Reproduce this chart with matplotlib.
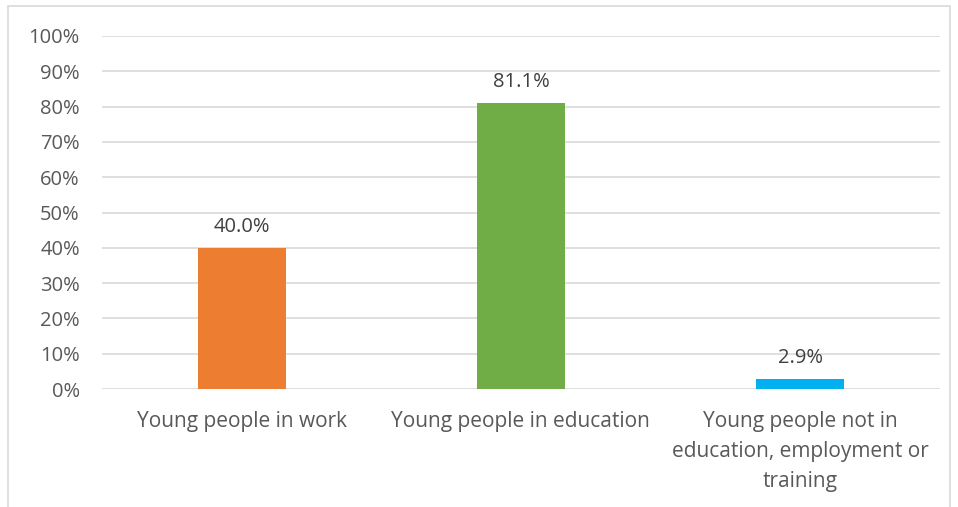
import matplotlib.pyplot as plt
from matplotlib.patches import Rectangle
from matplotlib.ticker import PercentFormatter

categories = ["Young people in work", "Young people in education",
              "Young people not in\neducation, employment or\ntraining"]
values = [40.0, 81.1, 2.9]
colors = ["#ED7D31", "#70AD47", "#00B0F0"]
yticks = list(range(0, 101, 10))

plt.rcParams['font.family'] = ['Open Sans', 'DejaVu Sans']
text_color = "#595959"

fig = plt.figure(figsize=(9.58, 5.07), dpi=100)
ax = fig.add_axes([0.1065, 0.2327, 0.8745, 0.6963])

x = range(len(categories))
ax.bar(x, values, width=0.315, color=colors, zorder=3)
for i, v in enumerate(values):
    ax.text(i, v + 3, f"{v:.1f}%", ha="center", va="bottom",
            fontsize=14.5, color="#404040")

ax.set_xlim(-0.5, 2.5)
ax.set_ylim(0, 100)
ax.set_yticks(yticks)
ax.yaxis.set_major_formatter(PercentFormatter(decimals=0))
ax.set_xticks(list(x))
ax.set_xticklabels(categories, linespacing=1.55)
ax.tick_params(axis="both", length=0, labelsize=14.5, colors=text_color)
ax.tick_params(axis="x", labelsize=15, pad=16)
ax.tick_params(axis="y", pad=16)
ax.grid(axis="y", color="#D9D9D9", linewidth=1.2, zorder=0)
for s in ax.spines.values():
    s.set_visible(False)

fig.patches.append(Rectangle((8 / 958, -0.01), 942 / 958, 1 - 6 / 507 + 0.01,
                             transform=fig.transFigure, fill=False,
                             edgecolor="#D9D9D9", linewidth=1.2))

fig.savefig("out.png", dpi=100)
